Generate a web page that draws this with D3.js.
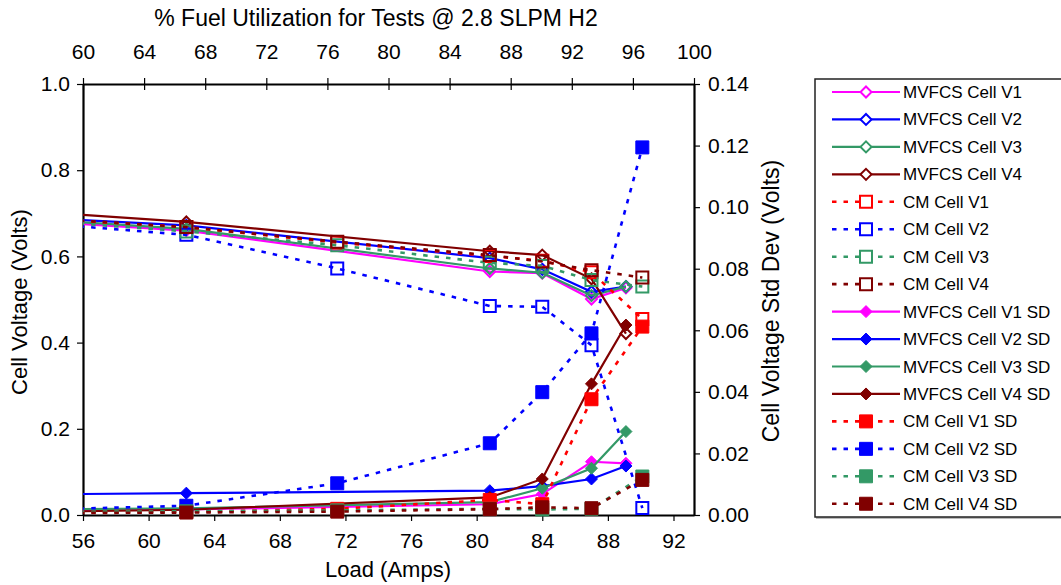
<!DOCTYPE html>
<html>
<head>
<meta charset="utf-8">
<script src="https://cdn.jsdelivr.net/npm/d3@7"></script>
<style>
  body { margin: 0; background: #fff; }
  text { font-family: Arial, "Liberation Sans", Helvetica, sans-serif; fill: #000; }
</style>
</head>
<body>
<svg id="chart" width="1061" height="585"></svg>
<script>
// Load points (A) for each test set
const loadMV = [53, 62.3, 80.8, 84.0, 87.0, 89.1];
const loadCM = [53, 62.3, 71.5, 80.8, 84.0, 87.0, 90.1];

// Mean cell voltages (V)
const mvV1 = [0.682, 0.660, 0.565, 0.561, 0.501, 0.527];
const mvV2 = [0.690, 0.672, 0.596, 0.570, 0.518, 0.530];
const mvV3 = [0.686, 0.664, 0.572, 0.562, 0.509, 0.530];
const mvV4 = [0.704, 0.680, 0.612, 0.603, 0.548, 0.421];
const cmV1 = [0.688, 0.668, 0.632, 0.601, 0.590, 0.563, 0.455];
const cmV2 = [0.678, 0.650, 0.572, 0.485, 0.483, 0.394, 0.016];
const cmV3 = [0.684, 0.658, 0.626, 0.585, 0.578, 0.545, 0.530];
const cmV4 = [0.690, 0.668, 0.634, 0.603, 0.588, 0.568, 0.551];

// Cell voltage standard deviations (V)
const mvV1SD = [0.0015, 0.0018, 0.0035, 0.0068, 0.0173, 0.0168];
const mvV2SD = [0.0067, 0.0071, 0.0079, 0.0094, 0.0117, 0.0159];
const mvV3SD = [0.0018, 0.0022, 0.0042, 0.0087, 0.0152, 0.0271];
const mvV4SD = [0.0010, 0.0017, 0.0057, 0.0117, 0.0426, 0.0617];
const cmV1SD = [0.0008, 0.0010, 0.0020, 0.0049, 0.0035, 0.0376, 0.0612];
const cmV2SD = [0.0017, 0.0030, 0.0103, 0.0233, 0.0399, 0.0590, 0.1194];
const cmV3SD = [0.0010, 0.0012, 0.0015, 0.0020, 0.0018, 0.0020, 0.0125];
const cmV4SD = [0.0006, 0.0008, 0.0011, 0.0019, 0.0025, 0.0022, 0.0114];

// Tick labels
const loadTicks = [56, 60, 64, 68, 72, 76, 80, 84, 88, 92];
const fuelTicks = [60, 64, 68, 72, 76, 80, 84, 88, 92, 96, 100];
const voltTicks = [0, 0.2, 0.4, 0.6, 0.8, 1.0];
const sdTicks = [0, 0.02, 0.04, 0.06, 0.08, 0.10, 0.12, 0.14];

const MAGENTA = "#FF00FF", BLUE = "#0000FF", GREEN = "#339966", MAROON = "#800000", RED = "#FF0000";

const series = [
  { name: "MVFCS Cell V1",    x: loadMV, y: mvV1,   axis: "v",  color: MAGENTA, dashed: false, shape: "diamond", filled: false },
  { name: "MVFCS Cell V2",    x: loadMV, y: mvV2,   axis: "v",  color: BLUE,    dashed: false, shape: "diamond", filled: false },
  { name: "MVFCS Cell V3",    x: loadMV, y: mvV3,   axis: "v",  color: GREEN,   dashed: false, shape: "diamond", filled: false },
  { name: "MVFCS Cell V4",    x: loadMV, y: mvV4,   axis: "v",  color: MAROON,  dashed: false, shape: "diamond", filled: false },
  { name: "CM Cell V1",       x: loadCM, y: cmV1,   axis: "v",  color: RED,     dashed: true,  shape: "square",  filled: false },
  { name: "CM Cell V2",       x: loadCM, y: cmV2,   axis: "v",  color: BLUE,    dashed: true,  shape: "square",  filled: false },
  { name: "CM Cell V3",       x: loadCM, y: cmV3,   axis: "v",  color: GREEN,   dashed: true,  shape: "square",  filled: false },
  { name: "CM Cell V4",       x: loadCM, y: cmV4,   axis: "v",  color: MAROON,  dashed: true,  shape: "square",  filled: false },
  { name: "MVFCS Cell V1 SD", x: loadMV, y: mvV1SD, axis: "sd", color: MAGENTA, dashed: false, shape: "diamond", filled: true },
  { name: "MVFCS Cell V2 SD", x: loadMV, y: mvV2SD, axis: "sd", color: BLUE,    dashed: false, shape: "diamond", filled: true },
  { name: "MVFCS Cell V3 SD", x: loadMV, y: mvV3SD, axis: "sd", color: GREEN,   dashed: false, shape: "diamond", filled: true },
  { name: "MVFCS Cell V4 SD", x: loadMV, y: mvV4SD, axis: "sd", color: MAROON,  dashed: false, shape: "diamond", filled: true },
  { name: "CM Cell V1 SD",    x: loadCM, y: cmV1SD, axis: "sd", color: RED,     dashed: true,  shape: "square",  filled: true },
  { name: "CM Cell V2 SD",    x: loadCM, y: cmV2SD, axis: "sd", color: BLUE,    dashed: true,  shape: "square",  filled: true },
  { name: "CM Cell V3 SD",    x: loadCM, y: cmV3SD, axis: "sd", color: GREEN,   dashed: true,  shape: "square",  filled: true },
  { name: "CM Cell V4 SD",    x: loadCM, y: cmV4SD, axis: "sd", color: MAROON,  dashed: true,  shape: "square",  filled: true }
];

const svg = d3.select("#chart");
const plot = { left: 83, right: 694, top: 84, bottom: 515 };

const x = d3.scaleLinear().domain([56, 93.25]).range([plot.left, plot.right]);
const xTop = d3.scaleLinear().domain([60, 100]).range([plot.left, plot.right]);
const yV = d3.scaleLinear().domain([0, 1]).range([plot.bottom, plot.top]);
const ySD = d3.scaleLinear().domain([0, 0.14]).range([plot.bottom, plot.top]);

const AX_FONT = 21;

function styleAxis(g) {
  g.select(".domain").attr("stroke", "#000").attr("stroke-width", 2.2);
  g.selectAll(".tick line").attr("stroke", "#000").attr("stroke-width", 1.2);
  g.selectAll(".tick text").attr("font-size", AX_FONT).attr("font-family", "Arial, 'Liberation Sans', sans-serif").attr("fill", "#000");
}

// Bottom axis: load
svg.append("g").attr("transform", `translate(0,${plot.bottom})`)
  .call(d3.axisBottom(x).tickValues(loadTicks).tickSize(6).tickSizeOuter(0).tickPadding(12).tickFormat(d3.format("d")))
  .call(styleAxis);

// Top axis: fuel utilization (ticks cross the axis line)
const topAxis = svg.append("g").attr("transform", `translate(0,${plot.top})`)
  .call(d3.axisTop(xTop).tickValues(fuelTicks).tickSize(6).tickSizeOuter(0).tickPadding(19).tickFormat(d3.format("d")))
  .call(styleAxis);
topAxis.selectAll(".tick").filter(d => d !== 100).append("line")
  .attr("y1", 0).attr("y2", 6).attr("stroke", "#000").attr("stroke-width", 1.2);

// Left axis: cell voltage
svg.append("g").attr("transform", `translate(${plot.left},0)`)
  .call(d3.axisLeft(yV).tickValues(voltTicks).tickSize(6).tickSizeOuter(0).tickPadding(7).tickFormat(d3.format(".1f")))
  .call(styleAxis);

// Right axis: std dev
svg.append("g").attr("transform", `translate(${plot.right},0)`)
  .call(d3.axisRight(ySD).tickValues(sdTicks).tickSize(6).tickSizeOuter(0).tickPadding(8).tickFormat(d3.format(".2f")))
  .call(styleAxis);

// Axis titles
svg.append("text").attr("x", 388).attr("y", 577).attr("text-anchor", "middle")
  .attr("font-size", 22).text("Load (Amps)");
svg.append("text").attr("x", 376).attr("y", 26).attr("text-anchor", "middle")
  .attr("font-size", 23).text("% Fuel Utilization for Tests @ 2.8 SLPM H2");
svg.append("text").attr("transform", "translate(27,302) rotate(-90)").attr("text-anchor", "middle")
  .attr("font-size", 22).text("Cell Voltage (Volts)");
svg.append("text").attr("transform", "translate(779,301) rotate(-90)").attr("text-anchor", "middle")
  .attr("font-size", 23).text("Cell Voltage Std Dev (Volts)");

// Plot clip for lines that start left of the visible load range
svg.append("defs").append("clipPath").attr("id", "plotClip")
  .append("rect").attr("x", plot.left).attr("y", 0).attr("width", plot.right - plot.left).attr("height", 585);

const DASH = "4.5,7";

function markerPath(shape, size) {
  const h = size / 2;
  if (shape === "diamond") return `M0,${-h}L${h},0L0,${h}L${-h},0Z`;
  return `M${-h},${-h}H${h}V${h}H${-h}Z`;
}

function markerSize(s) {
  if (s.shape === "diamond") return s.filled ? 12 : 11;
  return s.filled ? 13 : 12;
}

const seriesLayer = svg.append("g");
series.forEach(s => {
  const yScale = s.axis === "v" ? yV : ySD;
  const pts = s.x.map((lx, i) => [lx, s.y[i]]);
  const line = d3.line().x(d => x(d[0])).y(d => yScale(d[1]));
  const g = seriesLayer.append("g");
  g.append("path").attr("d", line(pts))
    .attr("clip-path", "url(#plotClip)")
    .attr("fill", "none").attr("stroke", s.color)
    .attr("stroke-width", s.dashed ? 2.6 : 2.2)
    .attr("stroke-dasharray", s.dashed ? DASH : null);
  g.selectAll("path.mk").data(pts.filter(d => d[0] >= x.domain()[0] && d[0] <= x.domain()[1]))
    .join("path").attr("class", "mk")
    .attr("transform", d => `translate(${x(d[0])},${yScale(d[1])})`)
    .attr("d", markerPath(s.shape, markerSize(s)))
    .attr("fill", s.filled ? s.color : "none")
    .attr("stroke", s.color).attr("stroke-width", s.filled ? 1 : 2);
});

// Legend
const lg = svg.append("g");
lg.append("rect").attr("x", 816).attr("y", 80).attr("width", 260).attr("height", 439).attr("fill", "#bbb");
lg.append("rect").attr("x", 815).attr("y", 79).attr("width", 260).attr("height", 438)
  .attr("fill", "#fff").attr("stroke", "#222").attr("stroke-width", 1.5);
series.forEach((s, i) => {
  const cy = 92 + i * 27.45;
  const row = lg.append("g").attr("transform", `translate(0,${cy})`);
  row.append("line").attr("x1", 832).attr("x2", 900).attr("y1", 0).attr("y2", 0)
    .attr("stroke", s.color).attr("stroke-width", s.dashed ? 2.6 : 2.2)
    .attr("stroke-dasharray", s.dashed ? DASH : null);
  row.append("path").attr("transform", "translate(866,0)")
    .attr("d", markerPath(s.shape, markerSize(s)))
    .attr("fill", s.filled ? s.color : "#fff")
    .attr("stroke", s.color).attr("stroke-width", s.filled ? 1 : 2);
  row.append("text").attr("x", 903).attr("y", 6).attr("font-size", 17).text(s.name);
});
</script>
</body>
</html>
